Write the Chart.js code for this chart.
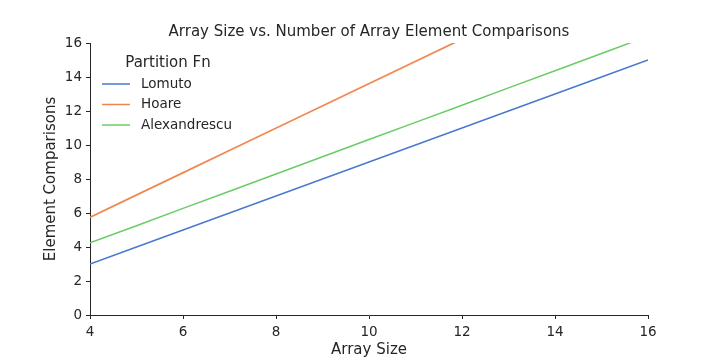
<!DOCTYPE html>
<html>
<head>
<meta charset="utf-8">
<script src="https://cdn.jsdelivr.net/npm/chart.js@4"></script>
<style>
  html, body { margin: 0; padding: 0; background: #fff; }
  #wrap { width: 720px; height: 360px; }
</style>
</head>
<body>
<div id="wrap"><canvas id="chart" width="720" height="360"></canvas></div>
<script>
// array sizes along x
const arraySizes = [4, 5, 6, 7, 8, 9, 10, 11, 12, 13, 14, 15, 16];

// comparisons per partition scheme
const lomuto = [3, 4, 5, 6, 7, 8, 9, 10, 11, 12, 13, 14, 15];
const hoare = [5.75, 7.06, 8.37, 9.68, 10.99, 12.30, 13.61, 14.92, 16.23, 17.54, 18.85, 20.16, 21.47];
const hoareLow = [5.68, 6.99, 8.30, 9.61, 10.92, 12.23, 13.53, 14.84, 16.15, 17.46, 18.77, 20.08, 21.39];
const hoareHigh = [5.82, 7.13, 8.44, 9.75, 11.06, 12.37, 13.69, 15.00, 16.31, 17.62, 18.93, 20.24, 21.55];
const alexandrescu = [4.24, 5.25, 6.27, 7.28, 8.29, 9.31, 10.32, 11.33, 12.34, 13.36, 14.37, 15.38, 16.40];

const xTicks = [4, 6, 8, 10, 12, 14, 16];
const yTicks = [0, 2, 4, 6, 8, 10, 12, 14, 16];

const seriesNames = ["Lomuto", "Hoare", "Alexandrescu"];
const seriesColors = ["#4878d0", "#ee854a", "#6acc64"];

const FONT = "'DejaVu Sans', sans-serif";
const INK = "#262626";

function pts(ys) {
  return arraySizes.map((x, i) => ({ x, y: ys[i] }));
}

// title, axis labels and legend drawn by hand
const extras = {
  id: "extras",
  afterDraw(chart) {
    const ctx = chart.ctx;
    const area = chart.chartArea;
    ctx.save();
    ctx.fillStyle = INK;
    ctx.textAlign = "center";
    ctx.textBaseline = "middle";

    ctx.font = "15px " + FONT;
    ctx.fillText("Array Size vs. Number of Array Element Comparisons", (area.left + area.right) / 2, 32);
    ctx.fillText("Array Size", (area.left + area.right) / 2, 350);

    ctx.save();
    ctx.translate(51, (area.top + area.bottom) / 2);
    ctx.rotate(-Math.PI / 2);
    ctx.fillText("Element Comparisons", 0, 0);
    ctx.restore();

    // legend
    ctx.fillText("Partition Fn", 168, 63);
    ctx.font = "13.5px " + FONT;
    ctx.textAlign = "left";
    seriesNames.forEach((name, i) => {
      const y = 84 + i * 20.5;
      ctx.strokeStyle = seriesColors[i];
      ctx.lineWidth = 1.5;
      ctx.beginPath();
      ctx.moveTo(102, y);
      ctx.lineTo(130, y);
      ctx.stroke();
      ctx.fillStyle = INK;
      ctx.fillText(name, 141, y);
    });
    ctx.restore();
  }
};

new Chart(document.getElementById("chart"), {
  type: "line",
  data: {
    datasets: [
      {
        label: "hoareLow",
        data: pts(hoareLow),
        borderWidth: 0,
        pointRadius: 0,
        fill: false
      },
      {
        label: "hoareHigh",
        data: pts(hoareHigh),
        borderWidth: 0,
        pointRadius: 0,
        backgroundColor: "rgba(238,133,74,0.25)",
        fill: "-1"
      },
      {
        label: seriesNames[0],
        data: pts(lomuto),
        borderColor: seriesColors[0],
        borderWidth: 1.5,
        pointRadius: 0,
        fill: false
      },
      {
        label: seriesNames[1],
        data: pts(hoare),
        borderColor: seriesColors[1],
        borderWidth: 1.5,
        pointRadius: 0,
        fill: false
      },
      {
        label: seriesNames[2],
        data: pts(alexandrescu),
        borderColor: seriesColors[2],
        borderWidth: 1.5,
        pointRadius: 0,
        fill: false
      }
    ]
  },
  options: {
    responsive: false,
    animation: false,
    layout: { padding: { top: 43, right: 72, left: 0, bottom: 0 } },
    plugins: {
      legend: { display: false },
      title: { display: false },
      tooltip: { enabled: false }
    },
    scales: {
      x: {
        type: "linear",
        min: 4,
        max: 16,
        afterBuildTicks: (axis) => { axis.ticks = xTicks.map(v => ({ value: v })); },
        afterFit: (axis) => { axis.height = 45; },
        grid: { drawOnChartArea: false, tickLength: 4, tickColor: INK, tickWidth: 1 },
        border: { color: INK, width: 1 },
        ticks: { color: INK, font: { family: FONT, size: 13.5 }, padding: 5, maxRotation: 0 }
      },
      y: {
        type: "linear",
        min: 0,
        max: 16,
        afterBuildTicks: (axis) => { axis.ticks = yTicks.map(v => ({ value: v })); },
        afterFit: (axis) => { axis.width = 90; },
        grid: { drawOnChartArea: false, tickLength: 4, tickColor: INK, tickWidth: 1 },
        border: { color: INK, width: 1 },
        ticks: { color: INK, font: { family: FONT, size: 13.5 }, padding: 4 }
      }
    }
  },
  plugins: [extras]
});
</script>
</body>
</html>
